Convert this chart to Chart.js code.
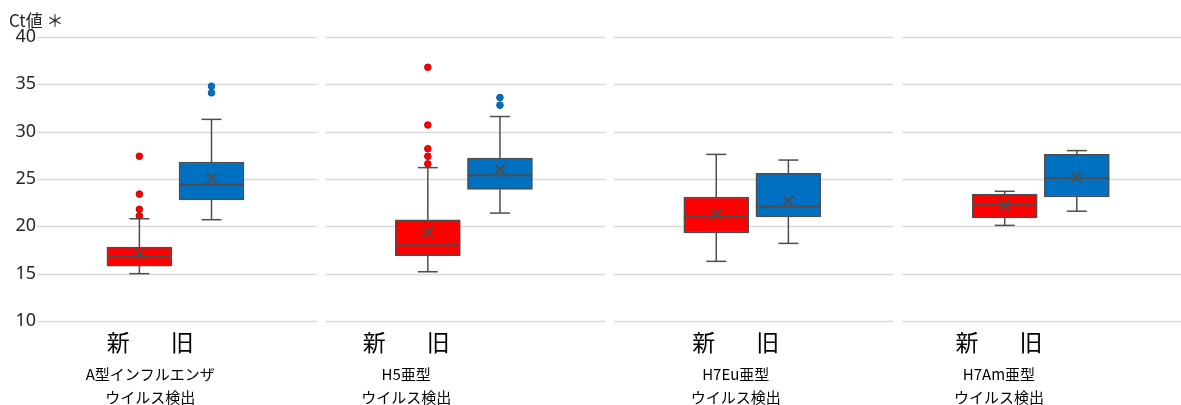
<!DOCTYPE html>
<html>
<head>
<meta charset="utf-8">
<script src="https://cdn.jsdelivr.net/npm/chart.js@4.4.0/dist/chart.umd.min.js"></script>
<style>
  html, body { margin: 0; padding: 0; background: #fff; }
  #wrap { position: relative; width: 1181px; height: 405px; }
</style>
</head>
<body>
<div id="wrap"><canvas id="chart"></canvas></div>
<script>
// groups (x axis) and the two series: 新 (new) and 旧 (old)
const groupLines = [
  ['A型インフルエンザ', 'ウイルス検出'],
  ['H5亜型', 'ウイルス検出'],
  ['H7Eu亜型', 'ウイルス検出'],
  ['H7Am亜型', 'ウイルス検出']
];
const seriesNames = ['新', '旧'];
const yTicks = [10, 15, 20, 25, 30, 35, 40];

const newMin = [15.0, 15.2, 16.3, 20.1];
const newQ1 = [15.8, 16.9, 19.3, 20.9];
const newMedian = [16.8, 18.0, 21.0, 22.3];
const newQ3 = [17.8, 20.7, 23.1, 23.4];
const newMax = [20.8, 26.2, 27.6, 23.7];
const newMean = [17.1, 19.4, 21.3, 22.2];
const newOutliers = [[21.1, 21.8, 23.4, 27.4], [26.6, 27.4, 28.2, 30.7, 36.8], [], []];

const oldMin = [20.7, 21.4, 18.2, 21.6];
const oldQ1 = [22.8, 23.9, 21.0, 23.1];
const oldMedian = [24.4, 25.4, 22.1, 25.1];
const oldQ3 = [26.8, 27.2, 25.6, 27.6];
const oldMax = [31.3, 31.6, 27.0, 28.0];
const oldMean = [25.1, 26.0, 22.7, 25.2];
const oldOutliers = [[34.1, 34.8], [32.8, 33.6], [], []];

// layout: each group takes 4 slots on a linear x scale, boxes sit at 1.5 and 2.5
const slotOf = (g, s) => g * 4 + 1.5 + s;
const labelShift = [-0.35, -0.8, -0.23, -0.58];   // label blocks sit left of the boxes
const RED = '#FF0000', BLUE = '#0070C0', EDGE = '#4D4D4D', GRID = '#D9D9D9';
const jp = '"Noto Sans CJK JP", "Noto Sans", sans-serif';

const boxSets = [
  { min: newMin, q1: newQ1, med: newMedian, q3: newQ3, max: newMax, mean: newMean, out: newOutliers, color: RED, dot: '#C00000' },
  { min: oldMin, q1: oldQ1, med: oldMedian, q3: oldQ3, max: oldMax, mean: oldMean, out: oldOutliers, color: BLUE, dot: '#005A9E' }
];

const datasets = [];
boxSets.forEach((b, s) => {
  datasets.push({
    type: 'bar',
    label: seriesNames[s],
    data: b.q1.map((v, g) => ({ x: slotOf(g, s), y: [v, b.q3[g]] })),
    backgroundColor: b.color,
    borderColor: EDGE,
    borderWidth: 1.5,
    borderSkipped: false,
    barThickness: 65,
    grouped: false,
    order: 3
  });
  datasets.push({
    type: 'scatter',
    label: seriesNames[s] + ' 平均',
    data: b.mean.map((v, g) => ({ x: slotOf(g, s), y: v })),
    pointStyle: 'crossRot',
    pointRadius: 7,
    borderColor: EDGE,
    borderWidth: 2,
    order: 1
  });
  const outs = [];
  b.out.forEach((list, g) => list.forEach(v => outs.push({ x: slotOf(g, s), y: v })));
  datasets.push({
    type: 'scatter',
    label: seriesNames[s] + ' 外れ値',
    data: outs,
    pointStyle: 'circle',
    pointRadius: 3.3,
    backgroundColor: b.color,
    borderColor: b.dot,
    borderWidth: 1,
    order: 1
  });
});

// split gridlines per group panel
const panelGrid = {
  id: 'panelGrid',
  beforeDatasetsDraw(chart) {
    const { ctx, scales: { x, y } } = chart;
    ctx.save();
    ctx.strokeStyle = GRID;
    ctx.lineWidth = 1.5;
    yTicks.forEach(t => {
      const py = Math.round(y.getPixelForValue(t)) + 0.5;
      groupLines.forEach((_, g) => {
        const x0 = x.getPixelForValue(g * 4 + 0.08);
        const x1 = Math.min(x.getPixelForValue(g * 4 + 3.96), chart.width);
        ctx.beginPath();
        ctx.moveTo(x0, py);
        ctx.lineTo(x1, py);
        ctx.stroke();
      });
    });
    ctx.restore();
  }
};

// whiskers, caps and medians
const whiskers = {
  id: 'whiskers',
  afterDatasetsDraw(chart) {
    const { ctx, scales: { x, y } } = chart;
    ctx.save();
    ctx.strokeStyle = EDGE;
    ctx.lineWidth = 1.5;
    const line = (xa, ya, xb, yb) => { ctx.beginPath(); ctx.moveTo(xa, ya); ctx.lineTo(xb, yb); ctx.stroke(); };
    boxSets.forEach((b, s) => {
      b.med.forEach((m, g) => {
        const cx = x.getPixelForValue(slotOf(g, s));
        const half = 32.5, cap = 10;
        line(cx, y.getPixelForValue(b.q3[g]), cx, y.getPixelForValue(b.max[g]));
        line(cx, y.getPixelForValue(b.q1[g]), cx, y.getPixelForValue(b.min[g]));
        line(cx - cap, y.getPixelForValue(b.max[g]), cx + cap, y.getPixelForValue(b.max[g]));
        line(cx - cap, y.getPixelForValue(b.min[g]), cx + cap, y.getPixelForValue(b.min[g]));
        ctx.lineWidth = 2;
        line(cx - half, y.getPixelForValue(m), cx + half, y.getPixelForValue(m));
        ctx.lineWidth = 1.5;
      });
    });
    ctx.restore();
  }
};

// 新/旧 and group names under each panel, plus the y title
const labels = {
  id: 'labels',
  afterDraw(chart) {
    const { ctx, scales: { x, y } } = chart;
    const base = y.getPixelForValue(10);
    ctx.save();
    ctx.fillStyle = '#000';
    ctx.textAlign = 'center';
    ctx.textBaseline = 'middle';
    groupLines.forEach((lines, g) => {
      const cx = x.getPixelForValue(g * 4 + 2 + labelShift[g]);
      ctx.font = '23px ' + jp;
      ctx.fillText(seriesNames[0], cx - 32, base + 21);
      ctx.fillText(seriesNames[1], cx + 32, base + 21);
      ctx.font = '15px ' + jp;
      ctx.fillText(lines[0], cx, base + 53);
      ctx.fillText(lines[1], cx, base + 76);
    });
    ctx.font = '17px ' + jp;
    ctx.fillStyle = '#262626';
    ctx.textAlign = 'left';
    ctx.fillText('Ct値 ＊', 9, 21);
    ctx.restore();
  }
};

new Chart(document.getElementById('chart'), {
  data: { datasets },
  options: {
    responsive: true,
    maintainAspectRatio: false,
    animation: false,
    layout: { padding: { top: 37, right: 0, bottom: 84, left: 0 } },
    plugins: { legend: { display: false }, tooltip: { enabled: false } },
    scales: {
      x: {
        type: 'linear',
        min: 0.08,
        max: 15.82,
        offset: false,
        display: false
      },
      y: {
        min: 10,
        max: 40,
        afterBuildTicks: (axis) => { axis.ticks = yTicks.map(v => ({ value: v })); },
        afterFit: (axis) => { axis.width = 37; },
        border: { display: false },
        grid: { display: false, drawTicks: false },
        ticks: {
          padding: 1,
          color: '#262626',
          font: { family: '"Noto Sans", sans-serif', size: 18 }
        }
      }
    }
  },
  plugins: [panelGrid, whiskers, labels]
});
</script>
</body>
</html>
